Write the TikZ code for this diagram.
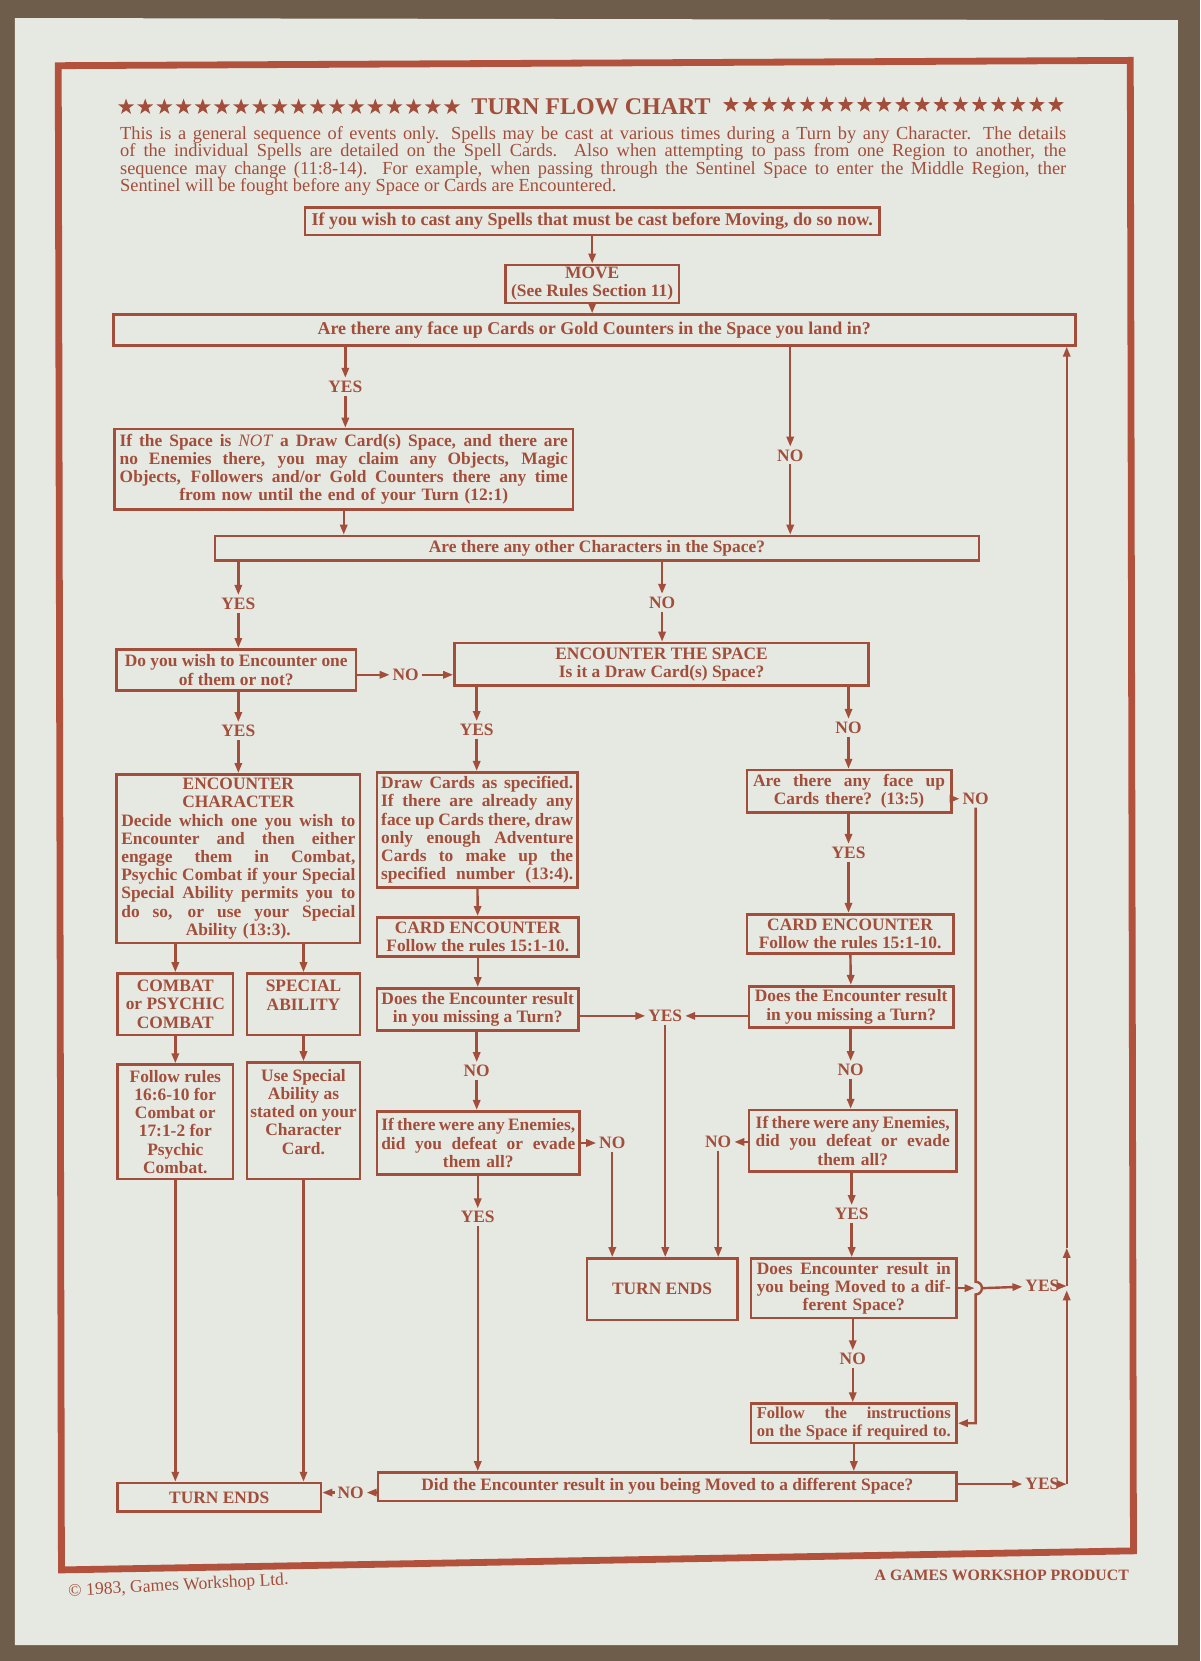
\documentclass[tikz,border=0pt]{standalone}
\usepackage{fontspec}
\setmainfont{Liberation Serif}
\usetikzlibrary{arrows.meta,shapes.geometric,calc}
\definecolor{ink}{HTML}{A24E3A}
\definecolor{rim}{HTML}{B2523D}
\definecolor{paper}{HTML}{E6E8E2}
\definecolor{carpet}{HTML}{6F5D4B}
\newcommand{\jline}[1]{\hbox to \hsize{\spaceskip=0pt\xspaceskip=0pt #1}}

\begin{document}
\begin{tikzpicture}[x=0.52957pt, y=-0.52957pt,
  box/.style={draw=ink, line width=1.3pt, inner sep=0pt, align=center, text=ink,
    font=\fontsize{8.7}{9.1}\selectfont\bfseries},
  wh/.style 2 args={minimum width=#1*0.52957pt, minimum height=#2*0.52957pt},
  lab/.style={text=ink, inner sep=1.3pt, font=\fontsize{8.7}{9.1}\selectfont\bfseries},
  link/.style={draw=ink, line width=1.2pt},
  arr/.style={link, -{Triangle[length=5pt,width=3.6pt]}},
  starmark/.style={star, star points=5, star point ratio=2.5, fill=ink, draw=none,
    inner sep=0pt, minimum size=8.4pt}]

  % sheet on the carpet
  \useasboundingbox (0,0) rectangle (1133,1568);
  \fill[carpet] (0,0) rectangle (1133,1568);
  \fill[paper] (14,17) -- (1112,19) -- (1112,1553) -- (14,1553) -- cycle;
  \draw[rim, line width=3.4pt] (55,62) -- (1067,57) -- (1070,1464) -- (58,1482) -- cycle;

  % heading
  \foreach \i in {0,...,17} {
    \node[starmark] (sl\i) at ({119+18.1*\i},101) {};
    \node[starmark] (sr\i) at ({690+18.05*\i},99) {};
  }
  \node[text=ink, font=\fontsize{12}{14}\selectfont\bfseries] (title) at (558,101) {TURN FLOW CHART};
  \node[anchor=north west, text width=473pt, inner sep=0pt, align=justify, text=ink,
    font=\fontsize{9.2}{8.7}\selectfont] (intro) at (113,119) {%
    \jline{This is a general sequence of events only. Spells may be cast at various times during a Turn by any Character. The details}
    \jline{of the individual Spells are detailed on the Spell Cards. Also when attempting to pass from one Region to another, the}
    \jline{sequence may change (11:8-14). For example, when passing through the Sentinel Space to enter the Middle Region, ther}
    \hbox to \hsize{Sentinel will be fought before any Space or Cards are Encountered.\hfil}};

  % boxes
  \node[box, wh={542}{26}, font=\fontsize{9}{9.4}\selectfont\bfseries] (cast) at (559,209) {If you wish to cast any Spells that must be cast before Moving, do so now.};
  \node[box, wh={164}{36}] (move) at (559,268) {MOVE\\(See Rules Section 11)};
  \node[box, wh={908}{29}, font=\fontsize{9}{9.4}\selectfont\bfseries] (land) at (561,311.5) {Are there any face up Cards or Gold Counters in the Space you land in?};
  \node[box, wh={433}{76}, text width=224pt] (claim) at (324.5,443) {%
    \jline{If the Space is \textmd{\textit{NOT}} a Draw Card(s) Space, and there are}
    \jline{no Enemies there, you may claim any Objects, Magic}
    \jline{Objects, Followers and/or Gold Counters there any time}
    from now until the end of your Turn (12:1)};
  \node[box, wh={721}{23}] (others) at (563.5,517.5) {Are there any other Characters in the Space?};
  \node[box, wh={226}{39}] (wish) at (223,632.5) {Do you wish to Encounter one\\of them or not?};
  \node[box, wh={391}{40}] (space) at (624.5,627) {ENCOUNTER THE SPACE\\Is it a Draw Card(s) Space?};
  \node[box, wh={230}{159}, text width=117pt] (meet) at (225,810.5) {%
    ENCOUNTER\\CHARACTER\\
    \jline{Decide which one you wish to}
    \jline{Encounter and then either}
    \jline{engage them in Combat,}
    \jline{Psychic Combat if your Special}
    \jline{Special Ability permits you to}
    \jline{do so, or use your Special}
    Ability (13:3).};
  \node[box, wh={189}{109}, text width=96pt] (pick) at (450.5,783.5) {%
    \jline{Draw Cards as specified.}
    \jline{If there are already any}
    \jline{face up Cards there, draw}
    \jline{only enough Adventure}
    \jline{Cards to make up the}
    \jline{specified number (13:4).}};
  \node[box, wh={193}{40}, text width=96pt] (faceup) at (801.5,747) {%
    \jline{Are there any face up}
    Cards there? (13:5)};
  \node[box, wh={190}{37}] (cardA) at (451,884.5) {CARD ENCOUNTER\\Follow the rules 15:1-10.};
  \node[box, wh={195}{37}] (cardB) at (802.5,881.5) {CARD ENCOUNTER\\Follow the rules 15:1-10.};
  \node[box, wh={190}{40}] (missA) at (451,953) {Does the Encounter result\\in you missing a Turn?};
  \node[box, wh={193}{39}] (missB) at (803.5,950.5) {Does the Encounter result\\in you missing a Turn?};
  \node[box, wh={191}{60}, text width=97pt] (enemA) at (451.5,1079) {%
    \jline{If there were any Enemies,}
    \jline{did you defeat or evade}
    them all?};
  \node[box, wh={196}{58}, text width=97pt] (enemB) at (805,1077) {%
    \jline{If there were any Enemies,}
    \jline{did you defeat or evade}
    them all?};
  \node[box, wh={142}{58}] (endA) at (625,1217) {TURN ENDS};
  \node[box, wh={194}{56}, text width=97pt] (moved) at (806,1216) {%
    \jline{Does Encounter result in}
    \jline{you being Moved to a dif-}
    ferent Space?};
  \node[box, wh={194}{37}, text width=97pt, font=\fontsize{8.3}{9.1}\selectfont\bfseries] (follow) at (806,1343.5) {%
    \jline{Follow the instructions}
    \jline{on the Space if required to.}};
  \node[box, wh={109}{58}] (combat) at (165.5,948) {COMBAT\\or PSYCHIC\\COMBAT};
  \node[box, wh={107}{58}] (special) at (286.5,948) {SPECIAL\\ABILITY\\\mbox{}};
  \node[box, wh={109}{108}] (rules) at (165.5,1059) {Follow rules\\16:6-10 for\\Combat or\\17:1-2 for\\Psychic\\Combat.};
  \node[box, wh={107}{110}] (usesp) at (286.5,1058) {Use Special\\Ability as\\stated on your\\Character\\Card.\\\mbox{}};
  \node[box, wh={192}{27}] (endB) at (207,1413.5) {TURN ENDS};
  \node[box, wh={546}{27}] (diff) at (630,1403.5) {Did the Encounter result in you being Moved to a different Space?};

  % answers
  \node[lab] (yes1) at (326,365) {YES};
  \node[lab] (no1) at (746,430) {NO};
  \node[lab] (yes2) at (225,570) {YES};
  \node[lab] (no2) at (625,569) {NO};
  \node[lab] (no3) at (383,637) {NO};
  \node[lab] (yes3) at (225,690) {YES};
  \node[lab] (yes4) at (450,689) {YES};
  \node[lab] (no4) at (801,687) {NO};
  \node[lab] (no5) at (921,754) {NO};
  \node[lab] (yes5) at (801,805) {YES};
  \node[lab] (yes6) at (628,959) {YES};
  \node[lab] (no6) at (450,1011) {NO};
  \node[lab] (no7) at (803,1010) {NO};
  \node[lab] (no8) at (578,1079) {NO};
  \node[lab] (no9) at (678,1078) {NO};
  \node[lab] (yes7) at (451,1149) {YES};
  \node[lab] (yes8) at (804,1146) {YES};
  \node[lab] (no10) at (805,1283) {NO};
  \node[lab] (yes9) at (984,1214) {YES};
  \node[lab] (yes10) at (984,1401) {YES};
  \node[lab] (no11) at (331,1409) {NO};
  \coordinate (rail) at (1007,1214);
  \coordinate (hop) at (no5 |- moved.east);

  % top part
  \draw[arr] (cast) -- (move);
  \draw[arr] (move.south) -- (move.south |- land.north);
  \draw[arr] (land.south -| yes1) -- (yes1);
  \draw[arr] (yes1) -- (claim.north -| yes1);
  \draw[arr] (land.south -| no1) -- (no1);
  \draw[arr] (no1) -- (others.north -| no1);
  \draw[arr] (claim.south) -- (claim.south |- others.north);
  \draw[arr] (others.south -| yes2) -- (yes2);
  \draw[arr] (yes2) -- (wish.north -| yes2);
  \draw[arr] (others.south -| no2) -- (no2);
  \draw[arr] (no2) -- (space.north -| no2);
  \draw[arr] (wish.east |- no3) -- (no3);
  \draw[arr] (no3) -- (space.west |- no3);

  % other characters
  \draw[arr] (wish.south -| yes3) -- (yes3);
  \draw[arr] (yes3) -- (meet.north -| yes3);
  \draw[arr] (meet.south -| combat) -- (combat);
  \draw[arr] (meet.south -| special) -- (special);
  \draw[arr] (combat) -- (rules);
  \draw[arr] (special) -- (usesp);
  \draw[arr] (rules) -- (rules.south |- endB.north);
  \draw[arr] (usesp) -- (usesp.south |- endB.north);

  % draw card space
  \draw[arr] (space.south -| yes4) -- (yes4);
  \draw[arr] (yes4) -- (pick.north -| yes4);
  \draw[arr] (pick) -- (cardA);
  \draw[arr] (cardA) -- (missA);
  \draw[arr] (missA.east |- yes6) -- (yes6);
  \draw[arr] (missB.west |- yes6) -- (yes6);
  \draw[arr] (yes6) -- (endA.north -| yes6);
  \draw[arr] (missA.south -| no6) -- (no6);
  \draw[arr] (no6) -- (enemA.north -| no6);
  \draw[arr] (enemA.east |- no8) -- (no8);
  \draw[arr] (no8) -- (endA.north -| no8);
  \draw[arr] (enemA.south -| yes7) -- (yes7);
  \draw[arr] (yes7) -- (diff.north -| yes7);

  % other spaces
  \draw[arr] (space.south -| no4) -- (no4);
  \draw[arr] (no4) -- (faceup.north -| no4);
  \draw[arr] (faceup.east |- no5) -- (no5);
  \draw[arr] (no5) -- ($(hop)+(0,-6)$) arc[start angle=-90, end angle=90, radius=6]
    -- (no5 |- follow.east) -- (follow.east);
  \draw[arr] (faceup.south -| yes5) -- (yes5);
  \draw[arr] (yes5) -- (cardB.north -| yes5);
  \draw[arr] (cardB) -- (missB);
  \draw[arr] (missB.south -| no7) -- (no7);
  \draw[arr] (no7) -- (enemB.north -| no7);
  \draw[arr] (enemB.west |- no9) -- (no9);
  \draw[arr] (no9) -- (endA.north -| no9);
  \draw[arr] (enemB.south -| yes8) -- (yes8);
  \draw[arr] (yes8) -- (moved.north -| yes8);
  \draw[arr] (moved.east) -- ($(hop)+(-1,0)$);
  \draw[arr] ($(hop)+(7,0)$) -- (yes9);
  \draw[arr] (yes9) -- (yes9 -| rail);
  \draw[arr] (moved.south -| no10) -- (no10);
  \draw[arr] (no10) -- (follow.north -| no10);
  \draw[arr] (follow) -- (follow.south |- diff.north);

  % last question
  \draw[arr] (diff.west |- no11) -- (no11);
  \draw[arr] (no11) -- (endB.east |- no11);
  \draw[arr] (diff.east |- yes10) -- (yes10);
  \draw[arr] (yes10) -- (yes10 -| rail);
  \draw[arr] (yes10 -| rail) -- ($(rail)+(0,4)$);
  \draw[arr] (rail) -- ++(0,-36) coordinate (railM);
  \draw[arr] (railM) -- (land.south -| railM);

  % footer
  \node[text=ink, anchor=east, inner sep=0pt, font=\fontsize{7.9}{9}\selectfont\bfseries] (maker) at (1066,1487) {A GAMES WORKSHOP PRODUCT};
  \node[text=ink, anchor=west, rotate=3, font=\fontsize{8.8}{10}\selectfont] (owner) at (58,1503) {\textcopyright{} 1983, Games Workshop Ltd.};

\end{tikzpicture}
\end{document}
